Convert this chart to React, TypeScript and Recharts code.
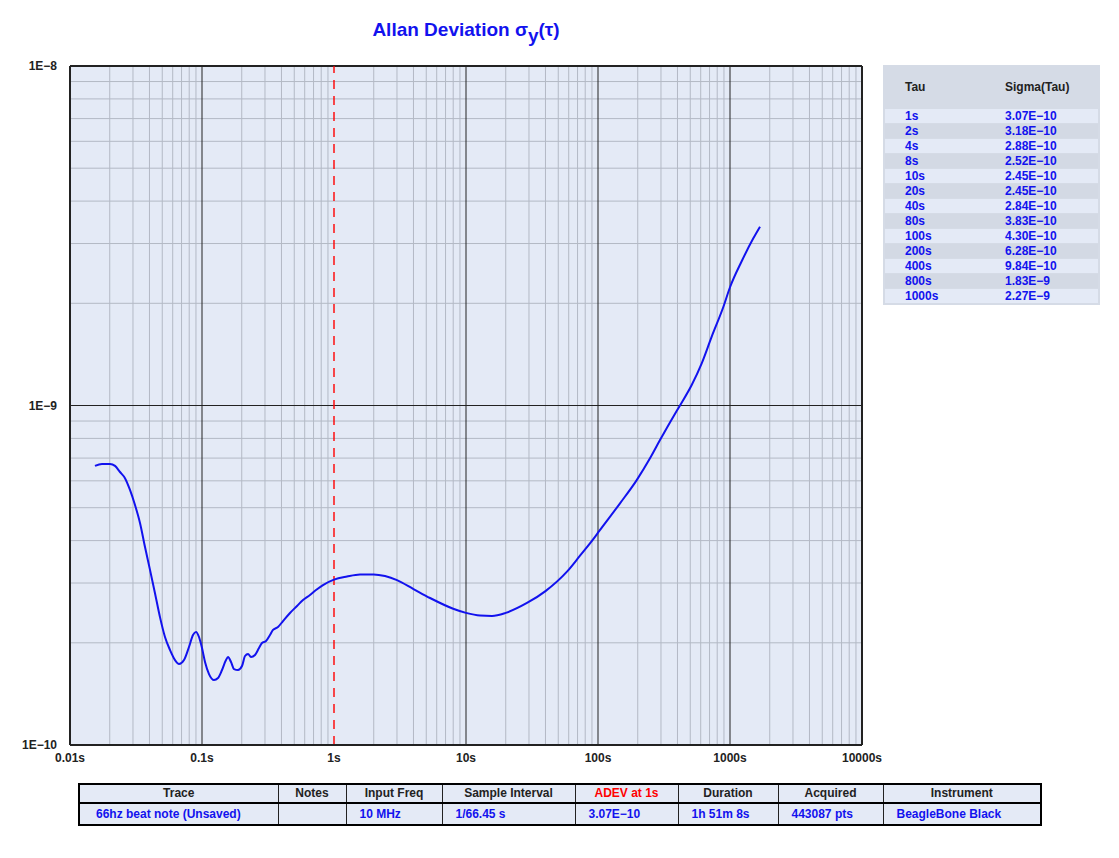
import React from 'react';
import { LineChart, Line, XAxis, YAxis, CartesianGrid, ReferenceLine } from 'recharts';

// ADEV curve
const tau = [
    0.01546, 0.01747, 0.02009, 0.02193, 0.02392, 0.0261, 0.02848, 0.03108, 0.03391, 0.037,
    0.04037, 0.04404, 0.04805, 0.05243, 0.05723, 0.06245, 0.06696, 0.07305, 0.07969, 0.08546,
    0.09006, 0.0949, 0.1, 0.1054, 0.113, 0.1233, 0.1322, 0.1418, 0.152, 0.1574,
    0.1659, 0.1748, 0.1874, 0.2009, 0.2118, 0.2232, 0.2351, 0.252, 0.2703, 0.2848,
    0.3054, 0.3274, 0.3451, 0.3765, 0.4108, 0.4642, 0.5246, 0.5824, 0.6579, 0.7305,
    0.8254, 1, 1.255, 1.574, 2, 2.434, 3, 4, 5.34, 8,
    10, 12.77, 15.74, 20, 28.97, 40, 58.2, 73.05, 92.1, 102.3,
    146.8, 196.5, 247.7, 294.9, 371.9, 418, 512.6, 610.5, 726.7, 889.9,
    1000, 1226, 1502, 1688,
];
const sigma = [
    6.64e-10, 6.73e-10, 6.73e-10, 6.64e-10, 6.37e-10, 6.11e-10, 5.64e-10, 5.09e-10, 4.51e-10, 3.83e-10,
    3.28e-10, 2.8e-10, 2.38e-10, 2.08e-10, 1.905e-10, 1.779e-10, 1.732e-10, 1.779e-10, 1.944e-10, 2.109e-10,
    2.152e-10, 2.08e-10, 1.931e-10, 1.756e-10, 1.618e-10, 1.554e-10, 1.575e-10, 1.663e-10, 1.779e-10, 1.815e-10,
    1.756e-10, 1.674e-10, 1.663e-10, 1.708e-10, 1.829e-10, 1.854e-10, 1.815e-10, 1.841e-10, 1.931e-10, 1.997e-10,
    2.025e-10, 2.109e-10, 2.182e-10, 2.226e-10, 2.318e-10, 2.448e-10, 2.567e-10, 2.674e-10, 2.766e-10, 2.861e-10,
    2.959e-10, 3.07e-10, 3.134e-10, 3.177e-10, 3.18e-10, 3.145e-10, 3.06e-10, 2.88e-10, 2.71e-10, 2.52e-10,
    2.45e-10, 2.406e-10, 2.4e-10, 2.45e-10, 2.62e-10, 2.84e-10, 3.24e-10, 3.61e-10, 4.04e-10, 4.27e-10,
    5.15e-10, 6.03e-10, 6.99e-10, 7.91e-10, 9.27e-10, 1.0e-9, 1.149e-9, 1.331e-9, 1.595e-9, 1.95e-9,
    2.23e-9, 2.66e-9, 3.108e-9, 3.363e-9,
];

const xTicks = [0.01, 0.1, 1, 10, 100, 1000, 10000];
const xTickLabels = ['0.01s', '0.1s', '1s', '10s', '100s', '1000s', '10000s'];
const yTicks = [1e-10, 1e-9, 1e-8];
const yTickLabels = ['1E\u221210', '1E\u22129', '1E\u22128'];

const decadesX = [0.01, 0.1, 1, 10, 100, 1000];
const decadesY = [1e-10, 1e-9];
const minorSteps = [2, 3, 4, 5, 6, 7, 8, 9];
const minorX = decadesX.flatMap(d => minorSteps.map(m => d * m));
const minorY = decadesY.flatMap(d => minorSteps.map(m => d * m));
// the 1s line is drawn as the red dashed marker instead
const majorX = xTicks.filter(v => v !== 1);

const tableTau = ['1s', '2s', '4s', '8s', '10s', '20s', '40s', '80s', '100s', '200s', '400s', '800s', '1000s'];
const tableSigma = [
    '3.07E\u221210', '3.18E\u221210', '2.88E\u221210', '2.52E\u221210', '2.45E\u221210', '2.45E\u221210',
    '2.84E\u221210', '3.83E\u221210', '4.30E\u221210', '6.28E\u221210', '9.84E\u221210', '1.83E\u22129', '2.27E\u22129',
];

const infoHeaders = ['Trace', 'Notes', 'Input Freq', 'Sample Interval', 'ADEV at 1s', 'Duration', 'Acquired', 'Instrument'];
const infoValues = ['66hz beat note (Unsaved)', '', '10 MHz', '1/66.45 s', '3.07E\u221210', '1h 51m 8s', '443087 pts', 'BeagleBone Black'];
const infoWidths = [199, 68, 96, 133, 103, 100, 105, 158];

const FONT = '"Liberation Sans", Arial, sans-serif';
const BLUE = '#1212ee';
const PLOT_BG = '#e4eaf6';
const MINOR = '#b3b9c5';
const MAJOR = '#222';

const data = tau.map((t, i) => ({ tau: t, sigma: sigma[i] }));

export default function App() {
    return (
        <div style={{ position: 'absolute', left: 0, top: 0, width: 1119, height: 858, background: '#fff', fontFamily: FONT }}>
            <div style={{ position: 'absolute', left: 0, width: 932, top: 19, textAlign: 'center', color: BLUE, fontWeight: 'bold', fontSize: 19 }}>
                Allan Deviation σ<sub style={{ fontSize: 19, verticalAlign: -6, lineHeight: 0 }}>y</sub>(τ)
            </div>

            <div style={{ position: 'absolute', left: 0, top: 0 }}>
                <LineChart width={900} height={800} data={data} margin={{ top: 66, right: 38, bottom: 25, left: 0 }}>
                    <CartesianGrid fill={PLOT_BG} fillOpacity={1} horizontal={false} vertical={false} />
                    {minorX.map(v => (
                        <ReferenceLine key={'mx' + v} x={v} stroke={MINOR} strokeWidth={1} />
                    ))}
                    {minorY.map(v => (
                        <ReferenceLine key={'my' + v} y={v} stroke={MINOR} strokeWidth={1} />
                    ))}
                    {majorX.map(v => (
                        <ReferenceLine key={'Mx' + v} x={v} stroke={MAJOR} strokeWidth={v === 10000 || v === 0.01 ? 2 : 1} />
                    ))}
                    {yTicks.map(v => (
                        <ReferenceLine key={'My' + v} y={v} stroke={MAJOR} strokeWidth={v === 1e-8 || v === 1e-10 ? 2 : 1} />
                    ))}
                    <ReferenceLine x={1} stroke="#ff0000" strokeDasharray="9 7" strokeWidth={1.4} />
                    <XAxis
                        type="number"
                        dataKey="tau"
                        scale="log"
                        domain={[0.01, 10000]}
                        ticks={xTicks}
                        tickFormatter={(v) => xTickLabels[xTicks.indexOf(v)] ?? ''}
                        axisLine={{ stroke: MAJOR, strokeWidth: 2 }}
                        tickLine={false}
                        tickSize={0}
                        tickMargin={8}
                        height={30}
                        tick={{ fill: '#222', fontSize: 12, fontWeight: 'bold', fontFamily: FONT }}
                        interval={0}
                    />
                    <YAxis
                        type="number"
                        dataKey="sigma"
                        scale="log"
                        domain={[1e-10, 1e-8]}
                        ticks={yTicks}
                        tickFormatter={(v) => yTickLabels[yTicks.indexOf(v)] ?? ''}
                        axisLine={{ stroke: MAJOR, strokeWidth: 2 }}
                        tickLine={false}
                        tickSize={0}
                        tickMargin={13}
                        width={70}
                        tick={{ fill: '#222', fontSize: 12, fontWeight: 'bold', fontFamily: FONT }}
                        interval={0}
                    />
                    <Line
                        type="monotone"
                        dataKey="sigma"
                        stroke={BLUE}
                        strokeWidth={2}
                        dot={false}
                        isAnimationActive={false}
                    />
                </LineChart>
            </div>

            {/* tau / sigma table on the right */}
            <div style={{ position: 'absolute', left: 883, top: 65, width: 217, height: 240, background: '#d5dbe6' }}>
                <div style={{ position: 'absolute', left: 22, top: 15, fontSize: 12, fontWeight: 'bold', color: '#222' }}>Tau</div>
                <div style={{ position: 'absolute', left: 122, top: 15, fontSize: 12, fontWeight: 'bold', color: '#222' }}>Sigma(Tau)</div>
                {tableTau.map((t, i) => (
                    <div
                        key={t}
                        style={{
                            position: 'absolute', left: 2, width: 213, top: 44 + i * 15, height: 14,
                            background: i % 2 === 0 ? PLOT_BG : '#d3d9e4',
                            color: BLUE, fontSize: 12, fontWeight: 'bold', lineHeight: '14px',
                        }}
                    >
                        <span style={{ position: 'absolute', left: 20 }}>{t}</span>
                        <span style={{ position: 'absolute', left: 120 }}>{tableSigma[i]}</span>
                    </div>
                ))}
            </div>

            {/* info table at the bottom */}
            <table
                style={{
                    position: 'absolute', left: 78, top: 783, width: 962, borderCollapse: 'collapse',
                    border: '2px solid #000', background: PLOT_BG, fontSize: 12, fontWeight: 'bold', tableLayout: 'fixed',
                }}
            >
                <colgroup>
                    {infoWidths.map((w, i) => <col key={i} style={{ width: w }} />)}
                </colgroup>
                <tbody>
                    <tr style={{ height: 18 }}>
                        {infoHeaders.map((h, i) => (
                            <td
                                key={h}
                                style={{
                                    borderLeft: '1px solid #222', borderBottom: '2px solid #000', padding: 0,
                                    textAlign: 'center', color: i === 4 ? '#ff0000' : '#222', lineHeight: '17px',
                                }}
                            >
                                {h}
                            </td>
                        ))}
                    </tr>
                    <tr style={{ height: 20 }}>
                        {infoValues.map((v, i) => (
                            <td
                                key={i}
                                style={{
                                    borderLeft: '1px solid #222', padding: 0, paddingLeft: i === 0 ? 16 : 13,
                                    textAlign: 'left', color: BLUE, lineHeight: '20px', whiteSpace: 'nowrap',
                                }}
                            >
                                {v}
                            </td>
                        ))}
                    </tr>
                </tbody>
            </table>
        </div>
    );
}
